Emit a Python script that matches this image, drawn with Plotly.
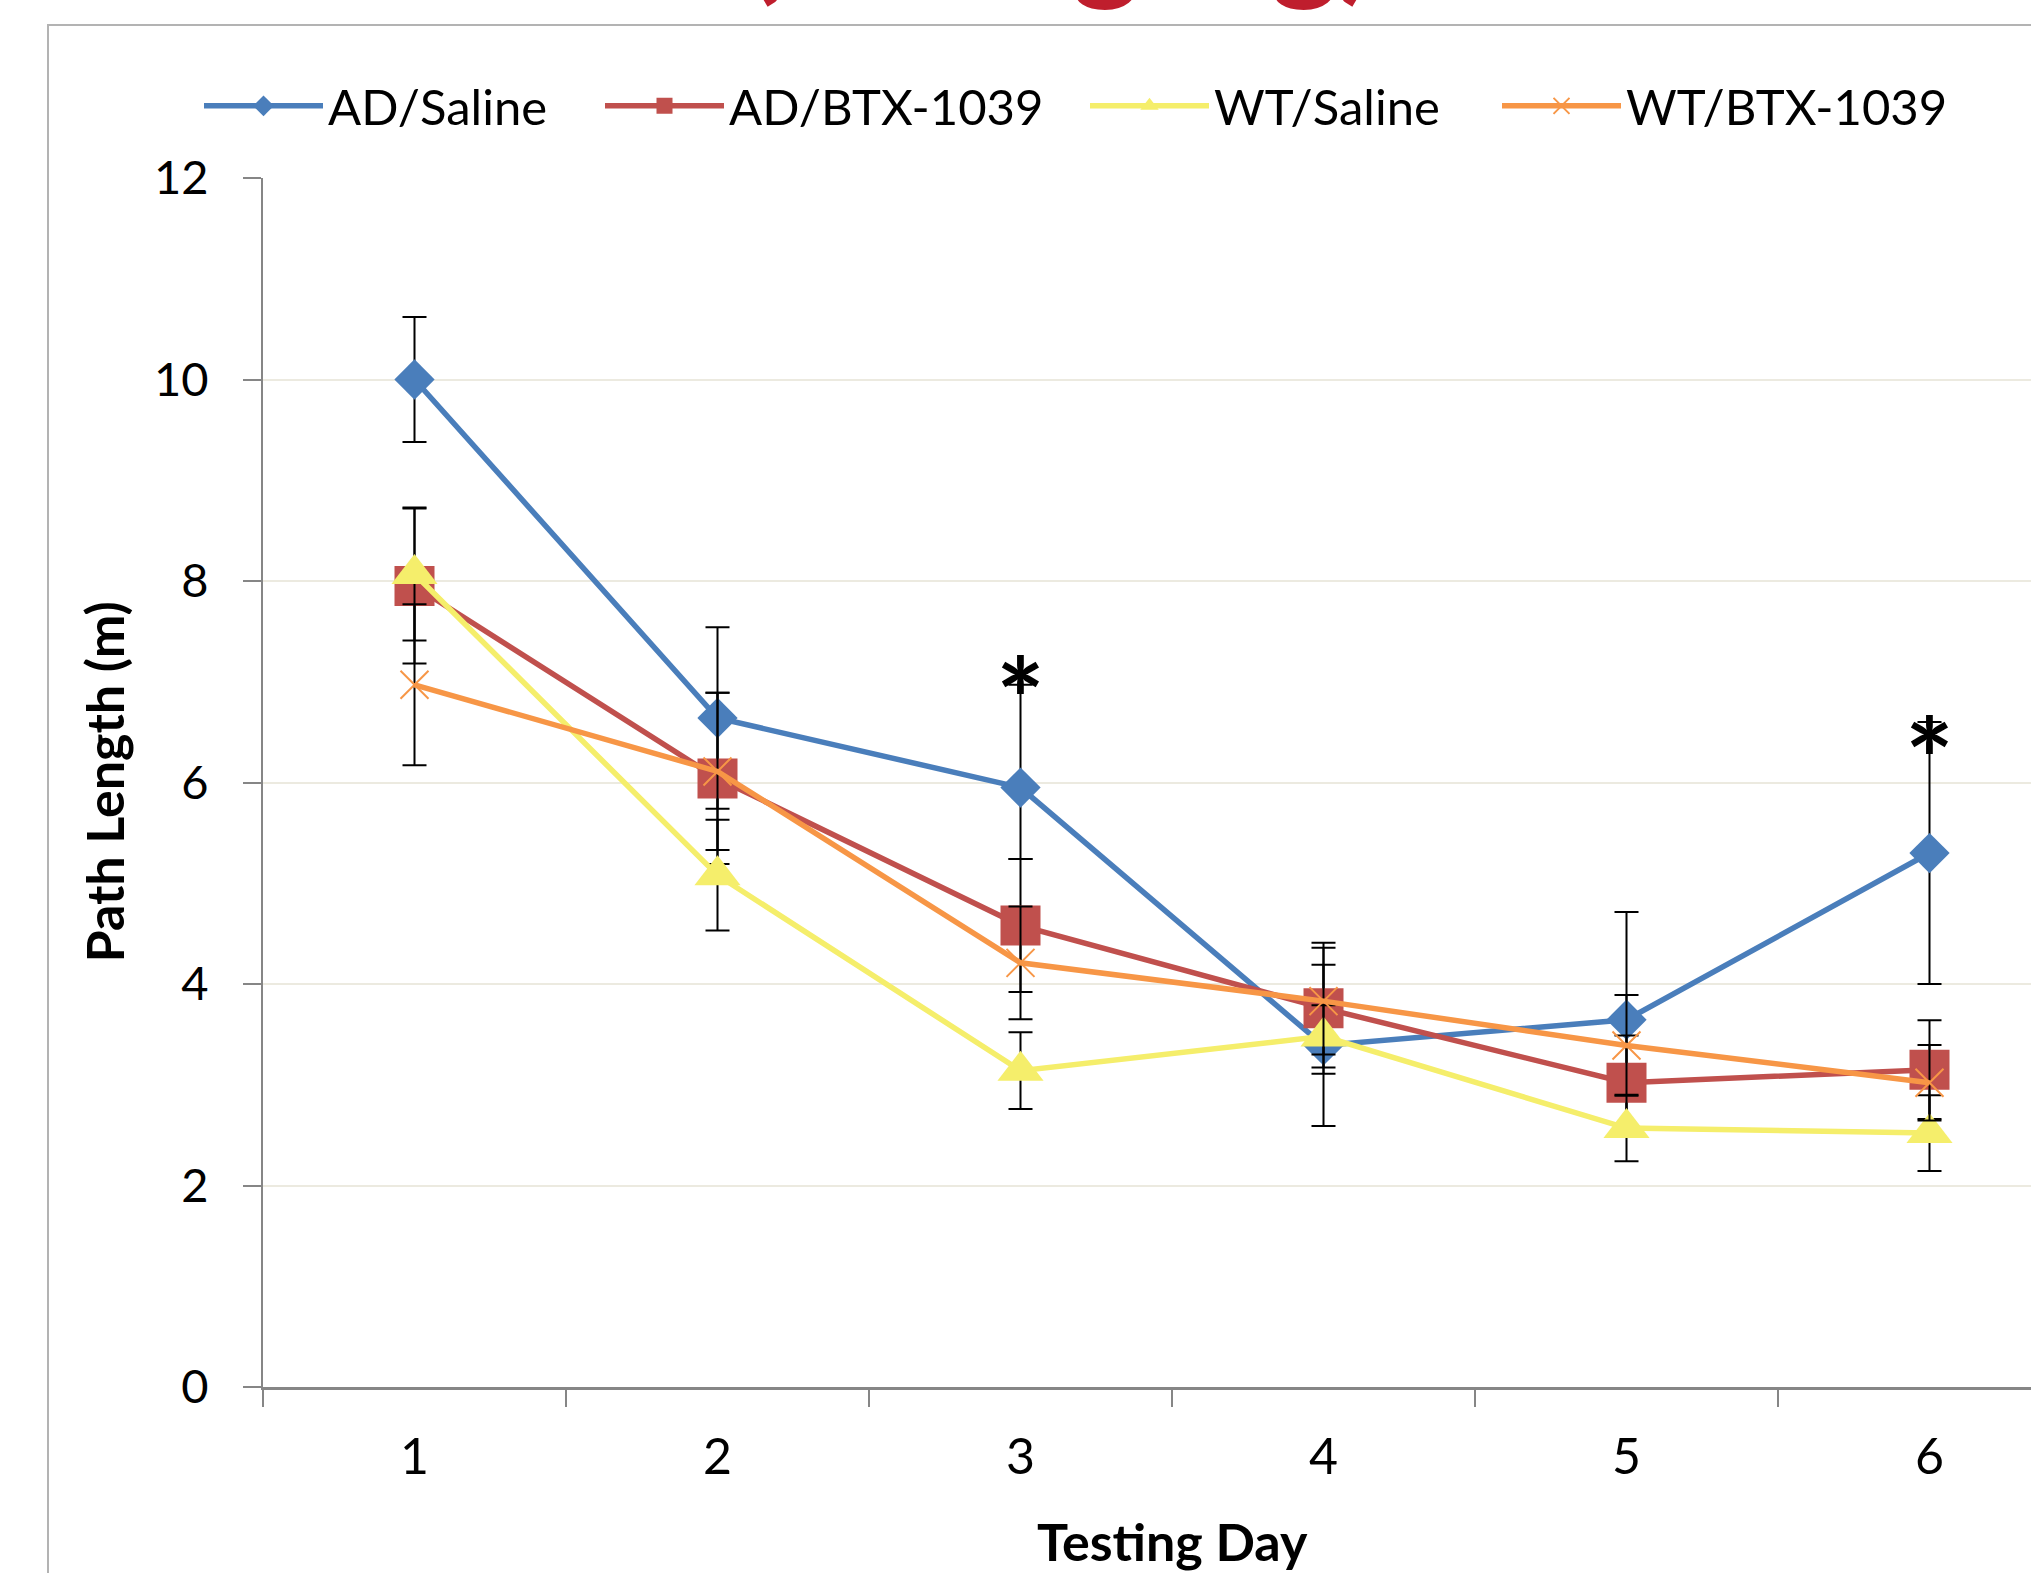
import plotly.graph_objects as go

days = ["1", "2", "3", "4", "5", "6"]

ad_saline = [10.0, 6.64, 5.95, 3.39, 3.645, 5.30]
ad_saline_err_plus = [0.62, 0.90, 1.02, 0.80, 1.07, 1.30]
ad_saline_err_minus = [0.62, 0.90, 0.71, 0.80, 1.07, 1.30]

ad_btx = [7.95, 6.04, 4.58, 3.76, 3.02, 3.15]
ad_btx_err = [0.77, 0.85, 0.66, 0.65, 0.47, 0.49]

wt_saline = [8.07, 5.08, 3.14, 3.48, 2.57, 2.52]
wt_saline_err = [0.66, 0.55, 0.38, 0.31, 0.33, 0.375]

wt_btx = [6.97, 6.11, 4.21, 3.83, 3.39, 3.02]
wt_btx_err = [0.80, 0.78, 0.56, 0.53, 0.50, 0.375]

series_names = ["AD/Saline", "AD/BTX-1039", "WT/Saline", "WT/BTX-1039"]
sig_days = ["3", "6"]
sig_y = [7.13, 6.53]

FONT = "Lato"
W, H = 2031, 1573
ML, MR, MT, MB = 263, 0, 178, 186
PW = W - ML - MR
PH = H - MT - MB


def px_to_paper_x(p):
    return (p - ML) / PW


def px_to_paper_y(p):
    return (H - MB - p) / PH


err_style = dict(type="data", color="black", thickness=2, width=12, visible=True)

fig = go.Figure()

fig.add_trace(go.Scatter(
    x=days, y=ad_saline, name=series_names[0], mode="lines+markers",
    line=dict(color="#4A7EBB", width=5.5),
    marker=dict(symbol="diamond", size=31, color="#4A7EBB"),
    error_y=dict(array=ad_saline_err_plus, arrayminus=ad_saline_err_minus,
                 symmetric=False, **err_style),
    legend="legend",
))
fig.add_trace(go.Scatter(
    x=days, y=ad_btx, name=series_names[1], mode="lines+markers",
    line=dict(color="#C0504D", width=5.5),
    marker=dict(symbol="square", size=40, color="#C0504D"),
    error_y=dict(array=ad_btx_err, **err_style),
    legend="legend2",
))
fig.add_trace(go.Scatter(
    x=days, y=wt_saline, name=series_names[2], mode="lines+markers",
    line=dict(color="#F5EE6B", width=5.5),
    marker=dict(symbol="triangle-up", size=40, color="#F5EE6B"),
    error_y=dict(array=wt_saline_err, **err_style),
    legend="legend3",
))
fig.add_trace(go.Scatter(
    x=days, y=wt_btx, name=series_names[3], mode="lines+markers",
    line=dict(color="#F79646", width=5.5),
    marker=dict(symbol="x-thin-open", size=28, color="#F79646",
                line=dict(color="#F79646", width=2)),
    error_y=dict(array=wt_btx_err, **err_style),
    legend="legend4",
))

legend_px = [199, 600, 1085, 1497]
legend_common = dict(
    orientation="h", yanchor="middle", xanchor="left",
    y=px_to_paper_y(106), bgcolor="rgba(0,0,0,0)", borderwidth=0,
    font=dict(family=FONT, size=49, color="black"), itemwidth=119,
)
layout_legends = {}
for i, p in enumerate(legend_px):
    key = "legend" if i == 0 else f"legend{i+1}"
    layout_legends[key] = dict(x=px_to_paper_x(p), **legend_common)

annotations = []
for d, yv in zip(sig_days, sig_y):
    annotations.append(dict(
        x=days.index(d), y=yv, xref="x", yref="y", text="<b>*</b>",
        showarrow=False, font=dict(family=FONT, size=115, color="black"),
        xanchor="center", yanchor="middle", yshift=-28,
    ))

# x-axis title centred on the full category span
annotations.append(dict(
    x=2.5, y=px_to_paper_y(1541), xref="x", yref="paper",
    text="<b>Testing Day</b>", showarrow=False,
    font=dict(family=FONT, size=52, color="black"),
    xanchor="center", yanchor="middle",
))
# y-axis title
annotations.append(dict(
    x=px_to_paper_x(103), y=0.5, xref="paper", yref="paper",
    text="<b>Path Length (m)</b>", showarrow=False, textangle=-90,
    font=dict(family=FONT, size=52, color="black"),
    xanchor="center", yanchor="middle",
))
# slide title, cut off at the top edge
annotations.append(dict(
    x=px_to_paper_x(1060), y=px_to_paper_y(-64), xref="paper", yref="paper",
    text="<b>(10 mg/kg)</b>", showarrow=False,
    font=dict(family=FONT, size=130, color="#BF1E2D"),
    xanchor="center", yanchor="middle",
))

shapes = [dict(
    type="rect", xref="paper", yref="paper",
    x0=px_to_paper_x(48), x1=px_to_paper_x(2200),
    y0=px_to_paper_y(1800), y1=px_to_paper_y(25),
    line=dict(color="#B3B3B3", width=2), fillcolor="rgba(0,0,0,0)",
    layer="below",
)]

fig.update_layout(
    width=W, height=H,
    margin=dict(l=ML, r=MR, t=MT, b=MB, pad=0),
    paper_bgcolor="white", plot_bgcolor="white",
    font=dict(family=FONT, size=50, color="black"),
    showlegend=True,
    annotations=annotations,
    shapes=shapes,
    **layout_legends,
)

fig.update_xaxes(
    type="category", range=[-0.5, 5.335],
    showline=True, linecolor="#868686", linewidth=3,
    ticks="outside", tickson="boundaries", ticklen=17, tickwidth=2,
    tickcolor="#868686", showgrid=False, zeroline=False,
    tickfont=dict(family=FONT, size=50, color="black"),
    ticklabelstandoff=24,
)
fig.update_yaxes(
    range=[0, 12], dtick=2, tick0=0,
    showline=True, linecolor="#868686", linewidth=2,
    ticks="outside", ticklen=18, tickwidth=2, tickcolor="#868686",
    showgrid=True, gridcolor="#ECEAE0", gridwidth=2, zeroline=False,
    tickfont=dict(family=FONT, size=47, color="black"),
    ticklabelstandoff=25,
)

fig.write_html("out.html")
